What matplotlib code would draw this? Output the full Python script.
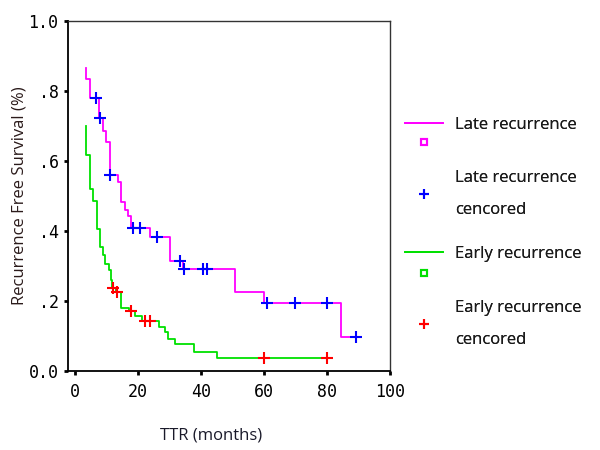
import matplotlib
matplotlib.use("Agg")
import matplotlib.pyplot as plt
from matplotlib.lines import Line2D

# Late recurrence: step times (months) and survival after each step
late_t = [3.5, 3.6, 5.0, 7.9, 9.0, 10.1, 11.1, 13.8, 14.8, 15.9, 16.9, 17.9,
          23.9, 30.2, 34.3, 50.9, 60.1, 84.4, 89.4]
late_s = [0.865, 0.834, 0.78, 0.722, 0.687, 0.655, 0.56, 0.541, 0.484, 0.46,
          0.443, 0.408, 0.384, 0.313, 0.29, 0.227, 0.193, 0.098, 0.098]
late_cens_t = [6.9, 8.0, 11.3, 18.5, 20.7, 26.0, 33.4, 34.7, 40.8, 41.9,
               60.9, 69.9, 80.1, 89.4]
late_cens_s = [0.78, 0.722, 0.56, 0.408, 0.408, 0.384, 0.313, 0.29, 0.29,
               0.29, 0.193, 0.193, 0.193, 0.098]

# Early recurrence
early_t = [3.5, 3.6, 4.9, 5.9, 7.0, 8.05, 8.9, 9.7, 11.0, 11.7, 12.0, 13.0,
           14.8, 17.3, 19.2, 21.5, 26.8, 28.6, 29.7, 31.8, 38.0, 45.2, 80.0]
early_s = [0.70, 0.617, 0.52, 0.487, 0.405, 0.355, 0.33, 0.305, 0.289, 0.26,
           0.238, 0.227, 0.181, 0.17, 0.156, 0.142, 0.127, 0.11, 0.09, 0.077,
           0.055, 0.038, 0.038]
early_cens_t = [12.3, 13.6, 17.8, 22.3, 24.0, 60.0, 80.0]
early_cens_s = [0.238, 0.227, 0.17, 0.142, 0.142, 0.038, 0.038]

x_ticks = [0, 20, 40, 60, 80, 100]
y_ticks = [0.0, 0.2, 0.4, 0.6, 0.8, 1.0]
y_tick_labels = ["0.0", ".2", ".4", ".6", ".8", "1.0"]

MAG, BLUE, GREEN, RED = "#FF00FF", "#0000FF", "#00E000", "#FF0000"
TXT = "Open Sans"
FS = 12

fig = plt.figure(figsize=(6, 4.5), dpi=100)
ax = fig.add_axes([0.1138, 0.1756, 0.536, 0.7778])

ax.plot(late_t, late_s, drawstyle="steps-post", color=MAG, lw=1.3)
ax.plot(early_t, early_s, drawstyle="steps-post", color=GREEN, lw=1.3)
ax.plot(late_cens_t, late_cens_s, ls="none", marker="+", ms=9, mew=1.5, color=BLUE)
ax.plot(early_cens_t, early_cens_s, ls="none", marker="+", ms=9, mew=1.5, color=RED)

ax.set_xlim(-2, 100)
ax.set_ylim(0, 1.0)
ax.set_xticks(x_ticks)
ax.set_yticks(y_ticks)
ax.set_yticklabels(y_tick_labels)
ax.tick_params(direction="out", length=3, width=2, labelsize=12, colors="black")
ax.tick_params(axis="x", pad=6)
ax.tick_params(axis="y", pad=4)
for lab in ax.get_xticklabels() + ax.get_yticklabels():
    lab.set_family("DejaVu Sans Mono")
for s in ["left", "bottom"]:
    ax.spines[s].set_linewidth(1.3)
for s in ["top", "right"]:
    ax.spines[s].set_linewidth(1.0)
    ax.spines[s].set_color("#333333")

ax.set_ylabel("Recurrence Free Survival (%)", family=TXT, fontsize=FS,
              color="#2a1a1a")
ax.yaxis.set_label_coords(-0.128, 0.5)
ax.set_xlabel("TTR (months)", family=TXT, fontsize=FS, color="#1a1a2a")
ax.xaxis.set_label_coords(0.445, -0.162)

# Legend, one entry per block so that spacing follows the reference
entries = [
    (Line2D([], [], color=MAG, lw=1.3), "Late recurrence", 125),
    (Line2D([], [], ls="none", marker="s", ms=5, mfc="none", mec=MAG, mew=1.5), "", 144),
    (Line2D([], [], ls="none", marker="+", ms=7, mew=1.5, color=BLUE), "Late recurrence\ncencored", 194),
    (Line2D([], [], color=GREEN, lw=1.3), "Early recurrence", 254),
    (Line2D([], [], ls="none", marker="s", ms=5, mfc="none", mec=GREEN, mew=1.5), "", 275),
    (Line2D([], [], ls="none", marker="+", ms=7, mew=1.5, color=RED), "Early recurrence\ncencored", 324),
]
for h, lab, ypix in entries:
    leg = fig.legend([h], [lab], loc="center left",
                     bbox_to_anchor=(405 / 600, 1 - ypix / 450),
                     frameon=False, prop={"family": TXT, "size": FS},
                     handlelength=2.3, handletextpad=0.7,
                     borderaxespad=0, borderpad=0)
    for t in leg.get_texts():
        t.set_linespacing(2.35)
        t.set_color("#1a1a1a")
    fig.add_artist(leg)

fig.savefig("out.png", dpi=100)
